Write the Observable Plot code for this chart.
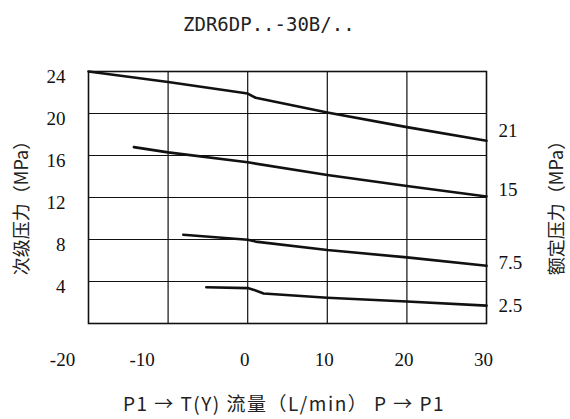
<!DOCTYPE html>
<html><head><meta charset="utf-8">
<script src="https://cdn.jsdelivr.net/npm/d3@7"></script>
<script src="https://cdn.jsdelivr.net/npm/@observablehq/plot@0.6"></script>
<style>
html,body{margin:0;padding:0;background:#fff;}
#wrap{width:570px;height:419px;position:relative;overflow:hidden;background:#fff;}
#title{position:absolute;left:183px;top:15px;font-family:"DejaVu Sans Mono";font-size:19px;line-height:19px;white-space:nowrap;color:#222;}
#chart{position:absolute;left:0;top:40px;}
#caption{position:absolute;left:0;width:568px;top:393px;text-align:center;font-family:"Noto Sans CJK SC";font-size:19px;line-height:19px;letter-spacing:1.5px;white-space:nowrap;color:#222;}
</style></head><body>
<div id="wrap"><div id="title"></div><div id="chart"></div><div id="caption"></div></div>
<script>
// ---- data ----
const titleText = "ZDR6DP..-30B/..";
const xLabel = "P1 → T(Y) 流量（L/min） P → P1";
const yLabelLeft = "次级压力（MPa）";
const yLabelRight = "额定压力（MPa）";

const xTicks = [-20, -10, 0, 10, 20, 30];
const yTicks = [4, 8, 12, 16, 20, 24];

// rated pressure 21 MPa
const s21Flow = [-20, -10, 0, 1, 10, 20, 30];
const s21Pressure = [24.0, 23.0, 21.9, 21.5, 20.1, 18.7, 17.4];
// rated pressure 15 MPa
const s15Flow = [-14.3, -10, 0, 10, 20, 30];
const s15Pressure = [16.8, 16.3, 15.35, 14.15, 13.1, 12.1];
// rated pressure 7.5 MPa
const s75Flow = [-8.1, 0, 1, 10, 20, 30];
const s75Pressure = [8.45, 7.97, 7.8, 7.0, 6.3, 5.5];
// rated pressure 2.5 MPa
const s25Flow = [-5.2, 0, 0.8, 2, 10, 20, 30];
const s25Pressure = [3.45, 3.37, 3.2, 2.85, 2.45, 2.1, 1.7];

const ratedLabels = ["21", "15", "7.5", "2.5"];
const ratedLabelAt = [18.3, 12.75, 5.75, 1.65];

// ---- build table ----
const seriesList = [
  {name: "21", flow: s21Flow, p: s21Pressure},
  {name: "15", flow: s15Flow, p: s15Pressure},
  {name: "7.5", flow: s75Flow, p: s75Pressure},
  {name: "2.5", flow: s25Flow, p: s25Pressure}
];
const rows = seriesList.flatMap(s => s.flow.map((f, i) => ({series: s.name, flow: f, pressure: s.p[i]})));

document.getElementById("title").textContent = titleText;
document.getElementById("caption").textContent = xLabel;

const serif = "Liberation Serif";
const cjk = "Noto Sans CJK SC";

const chart = Plot.plot({
  width: 570,
  height: 340,
  marginTop: 31,
  marginBottom: 57,
  marginLeft: 88,
  marginRight: 84,
  style: {fontFamily: serif, fontSize: "19px", color: "#111", background: "#fff"},
  x: {domain: [-20, 30]},
  y: {domain: [0, 24]},
  marks: [
    Plot.gridX([-10, 0, 10, 20], {stroke: "#111", strokeOpacity: 1, strokeWidth: 1.2}),
    Plot.gridY(yTicks, {stroke: "#111", strokeOpacity: 1, strokeWidth: 1.2}),
    Plot.frame({stroke: "#111", strokeWidth: 1.6}),
    Plot.line(rows, {x: "flow", y: "pressure", z: "series", stroke: "#111", strokeWidth: 2.6, curve: "linear"}),
    Plot.axisX(xTicks.filter(d => d < 0), {anchor: "bottom", tickSize: 0, tickPadding: 29, dx: -26, label: null, tickFormat: d => String(d)}),
    Plot.axisX(xTicks.filter(d => d >= 0), {anchor: "bottom", tickSize: 0, tickPadding: 29, dx: -3, label: null, tickFormat: d => String(d)}),
    Plot.axisY(yTicks, {anchor: "left", tickSize: 0, tickPadding: 23, dy: 5, label: null}),
    Plot.axisY(ratedLabelAt, {anchor: "right", tickSize: 0, tickPadding: 12, label: null,
      tickFormat: d => ratedLabels[ratedLabelAt.indexOf(d)]}),
    Plot.text([yLabelLeft], {frameAnchor: "left", text: d => d, rotate: -90, textAnchor: "middle", dx: -66, dy: 6, fontFamily: cjk, fontSize: 18, fill: "#222"}),
    Plot.text([yLabelRight], {frameAnchor: "right", text: d => d, rotate: -90, textAnchor: "middle", dx: 71, dy: 6, fontFamily: cjk, fontSize: 18, fill: "#222"})
  ]
});
document.getElementById("chart").appendChild(chart);
</script>
</body></html>
